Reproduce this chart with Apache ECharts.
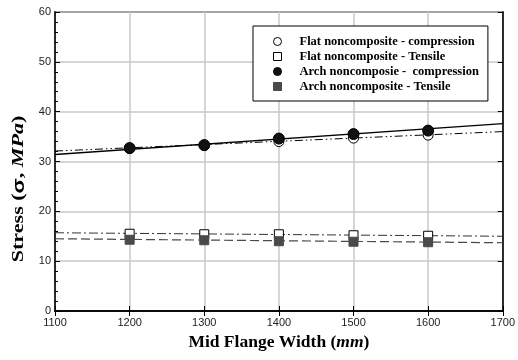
<!DOCTYPE html>
<html>
<head>
<meta charset="utf-8">
<title>Stress vs Mid Flange Width</title>
<script src="https://cdn.jsdelivr.net/npm/echarts@6/dist/echarts.min.js"></script>
<style>
  html, body { margin: 0; padding: 0; background: #fff; }
  #main { width: 518px; height: 360px; }
</style>
</head>
<body>
<div id="main"></div>
<script>
// widths (mm) where the points were measured
var widths = [1200, 1300, 1400, 1500, 1600];

// measured stresses (MPa)
var flatComp = [32.6, 33.2, 34.0, 34.7, 35.3];
var flatTens = [15.5, 15.4, 15.4, 15.2, 15.1];
var archComp = [32.7, 33.3, 34.6, 35.5, 36.2];
var archTens = [14.3, 14.2, 14.0, 13.9, 13.8];

// trend lines read at both ends of the axis
var trendX = [1100, 1700];
var flatCompTrend = [32.1, 36.0];
var flatTensTrend = [15.7, 15.0];
var archCompTrend = [31.4, 37.6];
var archTensTrend = [14.5, 13.7];

var names = [
	'Flat noncomposite - compression',
	'Flat noncomposite - Tensile',
	'Arch noncomposie -  compression',
	'Arch noncomposite - Tensile'
];

function pairs(xs, ys) {
	var out = [];
	for (var i = 0; i < xs.length; i++) {
		out.push([xs[i], ys[i]]);
	}
	return out;
}

var serif = '"Liberation Serif", "Times New Roman", serif';
var sans = '"Liberation Sans", Arial, sans-serif';

var myChart = echarts.init(document.getElementById('main'));

// 每条趋势线
function trend(data, color, dash, width) {
	return {
		type : 'line',
		data : pairs(trendX, data),
		symbol : 'none',
		silent : true,
		z : 1,
		lineStyle : {
			color : color,
			width : width,
			type : dash
		}
	};
}

function points(name, data, symbol, size, fill, border) {
	return {
		name : name,
		type : 'scatter',
		data : pairs(widths, data),
		symbol : symbol,
		symbolSize : size,
		z : 3,
		itemStyle : {
			color : fill,
			borderColor : border,
			borderWidth : 1,
			opacity : 1
		}
	};
}

function nameRich(size) {
	return {
		b : { fontFamily : serif, fontWeight : 'bold', fontSize : size, fill : '#000', color : '#000' },
		s : { fontFamily : sans, fontWeight : 'bold', fontSize : size, fill : '#000', color : '#000' },
		i : { fontFamily : serif, fontWeight : 'bold', fontStyle : 'italic', fontSize : size, fill : '#000', color : '#000' }
	};
}

var option = {
	animation : false,
	backgroundColor : '#fff',
	grid : {
		left : 55,
		right : 14,
		top : 12,
		bottom : 49,
		show : true,
		borderColor : '#000',
		borderWidth : 1.5
	},
	// y轴标题 (原图纵向拉伸)
	graphic : [ {
		type : 'text',
		x : 19,
		y : 189,
		rotation : Math.PI / 2,
		scaleX : 1.3,
		z : 10,
		style : {
			text : '{b|Stress (}{s|σ}{b|, }{i|MPa}{b|)}',
			rich : nameRich(17),
			align : 'center',
			verticalAlign : 'middle'
		}
	} ],
	legend : {
		orient : 'vertical',
		left : 253,
		top : 26,
		padding : [9, 9, 8, 20],
		itemGap : 2,
		itemWidth : 8,
		itemHeight : 8,
		backgroundColor : '#fff',
		borderColor : '#000',
		borderWidth : 1,
		textStyle : {
			fontFamily : serif,
			fontWeight : 'bold',
			fontSize : 12.5,
			color : '#000',
			padding : [0, 0, 0, 13]
		},
		data : [
			{ name : names[0], icon : 'circle', itemStyle : { color : '#fff', borderColor : '#000', borderWidth : 1 } },
			{ name : names[1], icon : 'rect', itemStyle : { color : '#fff', borderColor : '#000', borderWidth : 1 } },
			{ name : names[2], icon : 'circle', itemStyle : { color : '#111', borderColor : '#000', borderWidth : 1 } },
			{ name : names[3], icon : 'rect', itemStyle : { color : '#4a4a4a', borderColor : '#4a4a4a', borderWidth : 1 } }
		]
	},
	xAxis : [ {
		type : 'value',
		min : 1100,
		max : 1700,
		interval : 100,
		name : '{b|Mid Flange Width (}{i|mm}{b|)}',
		nameLocation : 'middle',
		nameGap : 22,
		nameTextStyle : { rich : nameRich(17.5) },
		axisLine : { show : true, lineStyle : { color : '#000', width : 1.5 } },
		axisTick : { show : true, inside : true, length : 5, lineStyle : { color : '#000' } },
		axisLabel : {
			fontFamily : sans, fontSize : 11, color : '#222', margin : 6,
			formatter : function(v) { return String(v); }
		},
		splitLine : { show : true, lineStyle : { color : '#c8c8c8', width : 1.5 } }
	}, {
		type : 'value',
		position : 'top',
		min : 1100,
		max : 1700,
		interval : 100,
		axisLine : { show : true, lineStyle : { color : '#000', width : 1.5 } },
		axisTick : { show : true, inside : true, length : 5, lineStyle : { color : '#000' } },
		axisLabel : { show : false },
		splitLine : { show : false }
	} ],
	yAxis : [ {
		type : 'value',
		min : 0,
		max : 60,
		interval : 10,
		axisLine : { show : true, lineStyle : { color : '#000', width : 1.5 } },
		axisTick : { show : true, inside : true, length : 5, lineStyle : { color : '#000' } },
		minorTick : { show : true, splitNumber : 5, length : 3, lineStyle : { color : '#000' } },
		axisLabel : { fontFamily : sans, fontSize : 11, color : '#222', margin : 4 },
		splitLine : { show : true, lineStyle : { color : '#c8c8c8', width : 1.5 } }
	}, {
		type : 'value',
		position : 'right',
		min : 0,
		max : 60,
		interval : 10,
		axisLine : { show : true, lineStyle : { color : '#000', width : 1.5 } },
		axisTick : { show : true, inside : true, length : 5, lineStyle : { color : '#000' } },
		axisLabel : { show : false },
		splitLine : { show : false }
	} ],
	series : [
		trend(flatCompTrend, '#000', [8, 3, 1.5, 3, 1.5, 3], 1),
		trend(archCompTrend, '#000', 'solid', 1.5),
		trend(flatTensTrend, '#333', [9, 3, 2, 3], 1),
		trend(archTensTrend, '#4a4a4a', [9, 4], 1.2),
		points(names[0], flatComp, 'circle', 10, '#fff', '#000'),
		points(names[1], flatTens, 'rect', 9, '#fff', '#000'),
		points(names[2], archComp, 'circle', 11, '#111', '#000'),
		points(names[3], archTens, 'rect', 9, '#4a4a4a', '#4a4a4a')
	]
};

myChart.setOption(option);
</script>
</body>
</html>
